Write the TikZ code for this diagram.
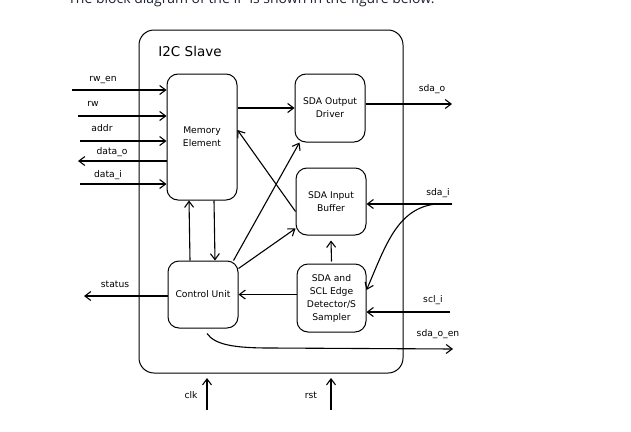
\documentclass[tikz,border=0pt]{standalone}
\usepackage{fontspec}
\setmainfont{DejaVu Sans}
\newfontfamily\captionfont{Open Sans}
\usetikzlibrary{positioning}
\usetikzlibrary{arrows.meta}
\definecolor{pagetext}{RGB}{31,35,52}
\tikzset{
    x=1pt, y=-1pt,
    block/.style={ % Sets the properties for each inner block
        draw,
        line width=1pt,
        rounded corners=11pt,
        minimum width=70pt,
        align=center,
        inner sep=1pt,
        font=\fontsize{9.2}{13}\selectfont
    },
    sig/.style={font=\fontsize{9.2}{10}\selectfont, inner sep=1pt}, % Signal labels
    wire/.style={-{Straight Barb[length=6pt,width=9pt]}, line width=1.1pt},
    every edge/.style={ % Sets the properties for each connector
        draw,
        wire
    }
}

\begin{document}
\begin{tikzpicture}
            \useasboundingbox (0,0) rectangle (631,431);
            \clip (0,0) rectangle (631,431);
            \node[anchor=base west, inner sep=0pt, text=pagetext, font=\captionfont\fontsize{14}{16}\selectfont] (caption) at (68,3) {The block diagram of the IP is shown in the figure below.};

            \node[draw, line width=1pt, rounded corners=15pt, minimum width=264pt, minimum height=343pt] (outer) at (271,201.5) {};
            \node[font=\fontsize{13.5}{15}\selectfont] (title) at (190,51) {I2C Slave};

            \node[block, minimum height=126pt] (mem) at (202,137) {Memory\\Element};
            \node[block, minimum height=68pt] (sdaout) at (330,108) {SDA Output\\Driver};
            \node[block, minimum height=67pt] (sdain) at (331,201.5) {SDA Input\\Buffer};
            \node[block, minimum height=67pt] (cu) at (203,294.5) {Control Unit};
            \node[block, minimum height=68pt, minimum width=69pt] (edet) at (331.5,298) {SDA and\\SCL Edge\\Detector/S\\Sampler};

            \coordinate (rwen) at (72,90);
            \coordinate (rw) at (78,116);
            \coordinate (addr) at (80,141);
            \coordinate (datao) at (78,161);
            \coordinate (datai) at (80,184);
            \coordinate (status) at (84,296);
            \coordinate (sdao) at (452,104);
            \coordinate (sdai) at (452,204);
            \coordinate (scli) at (450,312);
            \coordinate (sdaoen) at (453,349);
            \coordinate (clk) at (207,410);
            \coordinate (rst) at (331,410);

            \draw (rwen) edge (rwen -| mem.west);
            \draw (rw) edge (rw -| mem.west);
            \draw (addr) edge (addr -| mem.west);
            \draw (datao -| mem.west) edge (datao);
            \draw (datai) edge (datai -| mem.west);

            \draw (mem.east |- sdaout.west) edge (sdaout.west);
            \draw ([yshift=-10pt]sdain.west) edge ([yshift=7pt]mem.east);
            \draw ([xshift=-5pt]cu.north east) edge ([xshift=5pt]sdaout.south west);
            \draw ([yshift=26pt]cu.east) edge ([yshift=-27pt]sdain.west);
            \draw ([xshift=12pt]mem.south) edge ([xshift=12pt]cu.north);
            \draw ([xshift=-13pt]cu.north) edge ([xshift=-13pt]mem.south);
            \draw (edet.west |- cu.east) edge (cu.east);
            \draw ([yshift=2pt]edet.north) edge ([yshift=-5pt]sdain.south);
            \draw (cu.west |- status) edge (status);

            \draw (sdaout.east |- sdao) edge (sdao);
            \draw (sdai) edge (sdai -| sdain.east);
            \draw[wire] (sdai) .. controls (400,199) and (388,240) .. ([yshift=8pt]edet.east);
            \draw (scli) edge (scli -| edet.east);
            \draw[wire] ([shift={(4pt,-5pt)}]cu.south) .. controls (215,345) and (235,348) .. (270,348) -- (sdaoen);

            \draw (clk) edge ++(0,-32);
            \draw (rst) edge ++(0,-32);

            \node[sig] (lrwen) at (103,80) {rw\_en};
            \node[sig] (lrw) at (93,104) {rw};
            \node[sig] (laddr) at (102,128) {addr};
            \node[sig] (ldatao) at (112,152) {data\_o};
            \node[sig] (ldatai) at (108,175) {data\_i};
            \node[sig] (lstatus) at (115,284) {status};
            \node[sig] (lsdao) at (432,89) {sda\_o};
            \node[sig] (lsdai) at (438,193) {sda\_i};
            \node[sig] (lscli) at (433,300) {scl\_i};
            \node[sig] (lsdaoen) at (438,334) {sda\_o\_en};
            \node[sig] (lclk) at (191,395) {clk};
            \node[sig] (lrst) at (311,395) {rst};
        \end{tikzpicture}
\end{document}
